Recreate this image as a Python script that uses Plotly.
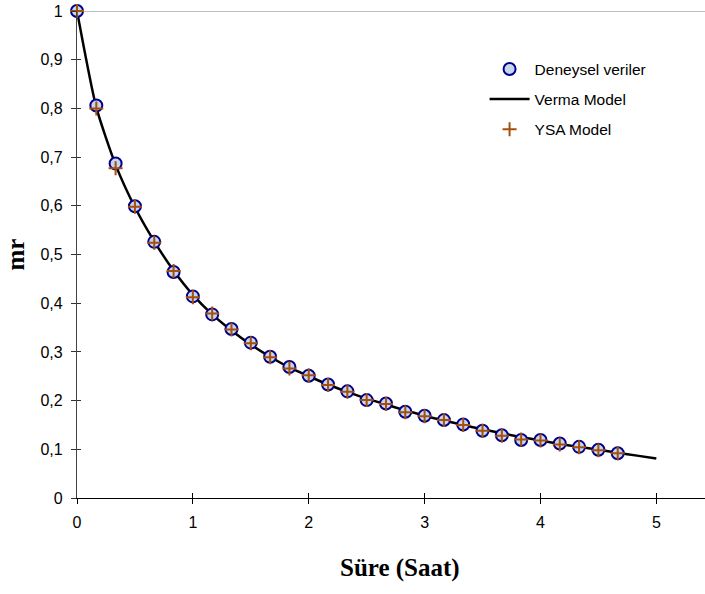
import plotly.graph_objects as go

# Drying time in hours (10-minute steps)
time_h = [k / 6 for k in range(29)]

# Experimental moisture ratio
mr_exp = [1.000, 0.806, 0.687, 0.599, 0.526, 0.464, 0.414, 0.377, 0.347, 0.319,
          0.290, 0.269, 0.251, 0.233, 0.219, 0.201, 0.194, 0.177, 0.169, 0.160,
          0.151, 0.138, 0.129, 0.119, 0.119, 0.112, 0.105, 0.099, 0.092]

# ANN (YSA) model predictions
mr_ysa = [1.000, 0.800, 0.677, 0.598, 0.524, 0.466, 0.412, 0.379, 0.346, 0.318,
          0.289, 0.266, 0.252, 0.232, 0.218, 0.201, 0.193, 0.176, 0.168, 0.160,
          0.150, 0.138, 0.128, 0.120, 0.118, 0.110, 0.104, 0.098, 0.092]

# Verma model curve
time_verma = [k / 6 for k in range(31)]
mr_verma = [1.000, 0.802, 0.684, 0.597, 0.527, 0.467, 0.417, 0.377, 0.344, 0.315,
            0.290, 0.268, 0.250, 0.233, 0.218, 0.204, 0.192, 0.180, 0.169, 0.159,
            0.150, 0.141, 0.133, 0.125, 0.118, 0.111, 0.105, 0.099, 0.093, 0.087,
            0.081]

x_ticks = [0, 1, 2, 3, 4, 5]
y_ticks = [round(0.1 * i, 1) for i in range(11)]

font_main = "Arial, Liberation Sans, sans-serif"
font_title = "Times New Roman, Liberation Serif, serif"

fig = go.Figure()

fig.add_trace(go.Scatter(
    x=time_verma, y=mr_verma, mode="lines", name="Verma Model",
    line=dict(color="black", width=2.5, shape="spline", smoothing=0.6),
    legendrank=2, legendgroup="b", cliponaxis=False,
))
fig.add_trace(go.Scatter(
    x=time_h, y=mr_exp, mode="markers", name="Deneysel veriler",
    marker=dict(symbol="circle", size=12, color="#c6d6f0",
                line=dict(color="#000088", width=2)),
    legendrank=1, legendgroup="a", cliponaxis=False,
))
fig.add_trace(go.Scatter(
    x=time_h, y=mr_ysa, mode="markers", name="YSA Model",
    marker=dict(symbol="cross-thin", size=10,
                line=dict(color="#a4500c", width=2)),
    legendrank=3, legendgroup="c", cliponaxis=False,
))
# Companion axes carrying the inward half of the crossing tick marks
fig.add_trace(go.Scatter(x=[None], y=[None], xaxis="x2", yaxis="y2",
                         showlegend=False, hoverinfo="skip"))

x_range = [0, 5.42]
y_range = [0, 1]

fig.update_layout(
    width=705, height=594,
    margin=dict(l=77, r=0, t=11, b=96),
    paper_bgcolor="white", plot_bgcolor="white",
    separators=",.",
    showlegend=True,
    font=dict(family=font_main, size=15, color="black"),
    xaxis=dict(range=x_range, tickvals=x_ticks, ticks="outside", ticklen=5,
               tickcolor="black", showline=True, linecolor="black",
               linewidth=1.3, showgrid=False, zeroline=False,
               ticklabelstandoff=5, tickfont=dict(size=16)),
    yaxis=dict(range=y_range, tickvals=y_ticks, ticks="outside", ticklen=5,
               tickcolor="#333333", showline=True, linecolor="#444444",
               linewidth=1.3, showgrid=False, zeroline=False,
               ticklabelstandoff=5, tickfont=dict(size=16)),
    xaxis2=dict(range=x_range, tickvals=x_ticks, ticks="inside", ticklen=5,
                tickcolor="black", overlaying="x", showticklabels=False,
                showline=False, showgrid=False, zeroline=False),
    yaxis2=dict(range=y_range, tickvals=y_ticks, ticks="inside", ticklen=4,
                tickcolor="#333333", overlaying="y", showticklabels=False,
                showline=False, showgrid=False, zeroline=False),
    legend=dict(x=0.649, y=0.915, xanchor="left", yanchor="top",
                bgcolor="rgba(0,0,0,0)", font=dict(size=15.5),
                tracegroupgap=7, itemwidth=40),
    shapes=[dict(type="line", xref="paper", yref="y", x0=0, x1=1, y0=1, y1=1,
                 line=dict(color="#a8a8a8", width=1.3), layer="below")],
    annotations=[
        dict(text="<b>Süre (Saat)</b>", xref="paper", yref="paper",
             x=0.515, y=0, yshift=-70, xanchor="center", yanchor="middle",
             showarrow=False, font=dict(family=font_title, size=25)),
        dict(text="<b>mr</b>", xref="paper", yref="paper",
             x=0, y=0.5, xshift=-62, xanchor="center", yanchor="middle",
             textangle=-90, showarrow=False,
             font=dict(family=font_title, size=25)),
    ],
)

fig.write_html("out.html")
